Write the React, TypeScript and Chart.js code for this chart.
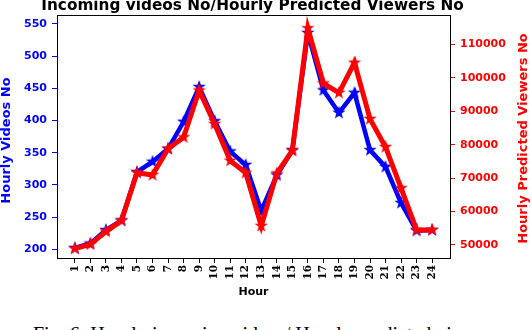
import React, { useEffect, useRef } from "react";
import { Chart, registerables } from "chart.js";

Chart.register(...registerables);

const hours = [1, 2, 3, 4, 5, 6, 7, 8, 9, 10, 11, 12, 13, 14, 15, 16, 17, 18, 19, 20, 21, 22, 23, 24];
const videos = [202, 209, 230, 245, 320, 336, 356, 398, 452, 399, 352, 331, 260, 315, 354, 536, 447, 412, 443, 354, 328, 272, 229, 230];
const viewers = [48900, 50200, 54000, 57300, 71600, 70900, 78800, 82200, 96200, 86200, 75200, 71600, 55700, 71400, 78200, 114800, 98300, 95500, 104500, 87700, 79300, 67000, 54500, 54500];
const leftTicks = [200, 250, 300, 350, 400, 450, 500, 550];
const rightTicks = [50000, 60000, 70000, 80000, 90000, 100000, 110000];

const titleText = "Incoming videos No/Hourly Predicted Viewers No";
const leftTitle = "Hourly Videos No";
const rightTitle = "Hourly Predicted Viewers No";
const xTitle = "Hour";
const caption = "Fig. 6: Hourly incoming videos/ Hourly predicted viewers";

const BLUE = "#0000ff";
const RED = "#ff0000";
const SANS = "'DejaVu Sans', sans-serif";

function makeStar(color: string, R: number) {
  const c = document.createElement("canvas");
  const s = Math.ceil(R * 2 + 2);
  c.width = s;
  c.height = s;
  const ctx = c.getContext("2d")!;
  const cx = s / 2, cy = s / 2;
  const r = R * 0.4;
  ctx.beginPath();
  for (let i = 0; i < 10; i++) {
    const rad = i % 2 === 0 ? R : r;
    const a = -Math.PI / 2 + (i * Math.PI) / 5;
    const x = cx + rad * Math.cos(a);
    const y = cy + rad * Math.sin(a);
    if (i === 0) ctx.moveTo(x, y);
    else ctx.lineTo(x, y);
  }
  ctx.closePath();
  ctx.fillStyle = color;
  ctx.fill();
  return c;
}

export default function App() {
  const ref = useRef<HTMLCanvasElement>(null);
  useEffect(() => {
    const canvas = ref.current!;
    const blueStar = makeStar(BLUE, 7);
    const redStar = makeStar(RED, 7);

    const textPlugin = {
      id: "texts",
      afterDraw(chart: any) {
        const { ctx, chartArea } = chart;
        const { left, right, top, bottom } = chartArea;
        ctx.save();
        ctx.strokeStyle = "#000";
        ctx.lineWidth = 1;
        ctx.beginPath();
        ctx.moveTo(left, top + 0.5);
        ctx.lineTo(right, top + 0.5);
        ctx.stroke();

        ctx.fillStyle = "#000";
        ctx.font = `bold 15.3px ${SANS}`;
        ctx.textAlign = "center";
        ctx.textBaseline = "alphabetic";
        ctx.fillText(titleText, (left + right) / 2 - 1, 10);

        ctx.textBaseline = "middle";
        ctx.font = `bold 11px ${SANS}`;
        ctx.fillText(xTitle, (left + right) / 2, 292);

        ctx.font = `bold 13px ${SANS}`;
        ctx.fillStyle = BLUE;
        ctx.save();
        ctx.translate(7, (top + bottom) / 2 + 4);
        ctx.rotate(-Math.PI / 2);
        ctx.fillText(leftTitle, 0, 0);
        ctx.restore();

        ctx.fillStyle = RED;
        ctx.save();
        ctx.translate(524, (top + bottom) / 2 + 2);
        ctx.rotate(-Math.PI / 2);
        ctx.fillText(rightTitle, 0, 0);
        ctx.restore();
        ctx.restore();
      },
    };

    const chart = new Chart(canvas, {
      type: "line",
      data: {
        datasets: [
          {
            label: "videos",
            data: hours.map((h, i) => ({ x: h, y: videos[i] })),
            yAxisID: "y",
            borderColor: BLUE,
            backgroundColor: BLUE,
            borderWidth: 4.5,
            pointStyle: blueStar as any,
            pointRadius: 7,
            tension: 0,
            order: 2,
          },
          {
            label: "viewers",
            data: hours.map((h, i) => ({ x: h, y: viewers[i] })),
            yAxisID: "y1",
            borderColor: RED,
            backgroundColor: RED,
            borderWidth: 5,
            pointStyle: redStar as any,
            pointRadius: 7,
            tension: 0,
            order: 1,
          },
        ],
      },
      options: {
        responsive: false,
        animation: false,
        layout: { padding: { top: 15, left: 0, right: 0, bottom: 0 } },
        plugins: { legend: { display: false }, tooltip: { enabled: false }, title: { display: false } },
        scales: {
          x: {
            type: "linear",
            min: -0.15,
            max: 25.15,
            afterBuildTicks: (s: any) => {
              s.ticks = hours.map((v) => ({ value: v }));
            },
            afterFit: (s: any) => {
              s.height = 42;
            },
            ticks: {
              autoSkip: false,
              minRotation: 90,
              maxRotation: 90,
              padding: 2,
              color: "#000",
              font: { family: "'DejaVu Serif', serif", weight: "bold", size: 10.5 },
              callback: (v: any) => String(v),
            },
            grid: { drawOnChartArea: false, drawTicks: true, tickLength: 5, tickColor: "#000" },
            border: { color: "#000", width: 1 },
          },
          y: {
            position: "left",
            min: 186.5,
            max: 563.8,
            afterBuildTicks: (s: any) => {
              s.ticks = leftTicks.map((v) => ({ value: v }));
            },
            afterFit: (s: any) => {
              s.width = 57;
            },
            ticks: {
              color: BLUE,
              padding: 5,
              font: { family: SANS, weight: "bold", size: 11 },
              callback: (v: any) => String(v),
            },
            grid: { drawOnChartArea: false, drawTicks: true, tickLength: 5, tickColor: BLUE },
            border: { color: "#000", width: 1 },
          },
          y1: {
            position: "right",
            min: 46110,
            max: 118760,
            afterBuildTicks: (s: any) => {
              s.ticks = rightTicks.map((v) => ({ value: v }));
            },
            afterFit: (s: any) => {
              s.width = 82;
            },
            ticks: {
              color: RED,
              padding: 5,
              font: { family: SANS, weight: "bold", size: 11 },
              callback: (v: any) => String(v),
            },
            grid: { drawOnChartArea: false, drawTicks: true, tickLength: 5, tickColor: RED },
            border: { color: "#000", width: 1 },
          },
        },
      },
      plugins: [textPlugin],
    } as any);
    return () => chart.destroy();
  }, []);

  return (
    <div style={{ position: "fixed", left: 0, top: 0, width: 532, height: 330, overflow: "hidden", background: "#fff" }}>
      <canvas ref={ref} width={532} height={300} style={{ display: "block", width: 532, height: 300 }} />
      <div
        style={{
          position: "absolute",
          left: 33,
          top: 324,
          fontFamily: "'Liberation Serif', 'Times New Roman', serif",
          fontSize: 20,
          lineHeight: "20px",
          whiteSpace: "nowrap",
          color: "#000",
        }}
      >
        {caption}
      </div>
    </div>
  );
}
